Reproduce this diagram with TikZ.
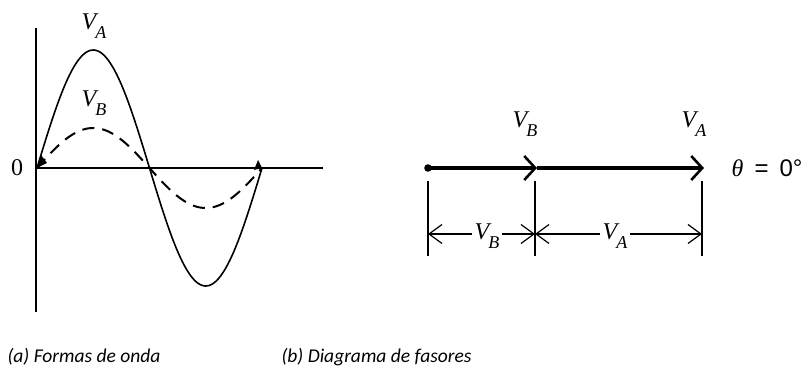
\documentclass[tikz,border=0pt]{standalone}
\usepackage{fontspec}
\setmainfont{Liberation Serif}
\setsansfont{Liberation Sans}
\newfontfamily\capfont{Carlito}
\usetikzlibrary{arrows.meta}
\newcommand\vlab[1]{\fontsize{24}{28}\selectfont\itshape V\kern-1pt\raisebox{-9pt}{\fontsize{18}{20}\selectfont #1}}
\begin{document}
\begin{tikzpicture}[x=1pt,y=-1pt,
  axisln/.style={line width=1.6pt},
  wavea/.style={line width=1.6pt},
  waveb/.style={line width=2pt,dash pattern=on 12pt off 8pt},
  phasor/.style={line width=3.4pt,-{Straight Barb[length=11pt,width=24pt,line width=2.6pt]}},
  dimln/.style={line width=1.2pt,-{Straight Barb[length=13pt,width=19pt,line width=1.2pt]}},
  tickln/.style={line width=1.2pt},
  lbl/.style={inner sep=0.5pt, anchor=base west},
  captxt/.style={font=\capfont\itshape\fontsize{19.5}{23}\selectfont, anchor=west}]
\useasboundingbox (0,0) rectangle (805,379);
% panel (a)
\coordinate (yt) at (36,28);
\coordinate (yb) at (36,312);
\coordinate (o) at (36,168);
\coordinate (xe) at (323,168);
\draw[axisln] (yt) -- (yb);
\draw[axisln] (o) -- (xe);
\draw[wavea] plot[domain=0:360,samples=120] ({37+\x*0.625},{168-118*sin(\x)});
\draw[waveb] plot[domain=0:360,samples=120] ({37+\x*0.625},{168-40*sin(\x)});
\fill (37,168) -- (41,155) -- (47,163) -- cycle;
\fill (262,168) -- (254,170) -- (258,160) -- cycle;
\node[lbl] (va) at (81,30) {\vlab{A}};
\node[lbl] (vb) at (81,107) {\vlab{B}};
\node[font=\fontsize{24}{26}\selectfont] (zero) at (17,168) {0};
% panel (b)
\coordinate (P0) at (428,168);
\coordinate (PB) at (537,168);
\coordinate (PA) at (704,168);
\draw[phasor] (P0) -- (PB);
\draw[phasor] (PB) -- (PA);
\fill (P0) circle (3.8pt);
\node[lbl] (pvb) at (512,128) {\vlab{B}};
\node[lbl] (pva) at (681,128) {\vlab{A}};
\node[lbl] (theta) at (731,177) {\fontsize{24}{28}\selectfont\itshape θ\hspace{11pt}\sffamily\upshape =\hspace{11pt}0°};
\draw[tickln] (428,181) -- (428,256);
\draw[tickln] (535,181) -- (535,256);
\draw[tickln] (702,181) -- (702,256);
\node[lbl] (dvb) at (474,240) {\vlab{B}};
\node[lbl] (dva) at (602,240) {\vlab{A}};
\draw[dimln] ([xshift=-2pt]dvb.west |- 0,234) -- (428,234);
\draw[dimln] ([xshift=2pt]dvb.east |- 0,234) -- (535,234);
\draw[dimln] ([xshift=-2pt]dva.west |- 0,234) -- (535,234);
\draw[dimln] ([xshift=2pt]dva.east |- 0,234) -- (702,234);
% captions
\node[captxt] (capa) at (4,357) {(a) Formas de onda};
\node[captxt] (capb) at (278,357) {(b) Diagrama de fasores};
\end{tikzpicture}
\end{document}
